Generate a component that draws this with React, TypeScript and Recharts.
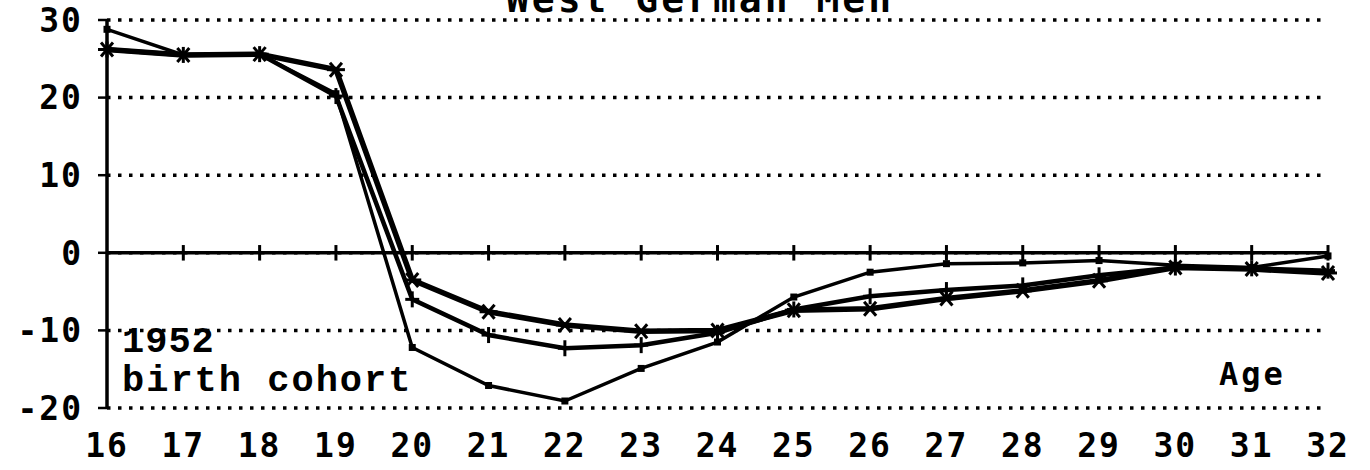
import React from "react"
import {
  LineChart,
  Line,
  XAxis,
  YAxis,
  CartesianGrid,
  ReferenceLine
} from "recharts"

const ages = [16, 17, 18, 19, 20, 21, 22, 23, 24, 25, 26, 27, 28, 29, 30, 31, 32]
// squares
const seriesA = [28.8, 25.5, 25.6, 20.5, -12.2, -17.1, -19.1, -14.9, -11.5, -5.7, -2.5, -1.4, -1.3, -1.0, -1.6, -1.9, -0.4]
// stars
const seriesB = [26.2, 25.5, 25.6, 23.6, -3.5, -7.6, -9.3, -10.1, -10.0, -7.4, -7.2, -5.9, -4.9, -3.6, -1.9, -2.1, -2.6]
// plus signs
const seriesC = [26.2, 25.5, 25.6, 20.2, -6.0, -10.6, -12.3, -11.9, -10.3, -7.3, -5.6, -4.8, -4.2, -2.9, -1.9, -2.0, -2.3]
const yTicks = [-20, -10, 0, 10, 20, 30]

const data = ages.map((age, i) => ({ age, a: seriesA[i], b: seriesB[i], c: seriesC[i] }))

const font = "'DejaVu Sans Mono', monospace"

const SquareDot = (p: any) => (
  <rect key={p.index} x={p.cx - 3.5} y={p.cy - 3.5} width={7} height={7} fill="#000" />
)

const StarDot = (p: any) => (
  <g key={p.index} stroke="#000" strokeWidth={3}>
    <line x1={p.cx - 9} y1={p.cy} x2={p.cx + 9} y2={p.cy} />
    <line x1={p.cx - 6} y1={p.cy - 7} x2={p.cx + 6} y2={p.cy + 7} />
    <line x1={p.cx - 6} y1={p.cy + 7} x2={p.cx + 6} y2={p.cy - 7} />
  </g>
)

const PlusDot = (p: any) => (
  <g key={p.index} stroke="#000" strokeWidth={3}>
    <line x1={p.cx} y1={p.cy - 8} x2={p.cx} y2={p.cy + 8} />
    <line x1={p.cx - 7} y1={p.cy} x2={p.cx + 7} y2={p.cy} />
  </g>
)

export default function App() {
  return (
    <div style={{ position: "absolute", left: 0, top: 0, width: 1370, height: 470, background: "#fff" }}>
      <LineChart
        width={1370}
        height={470}
        data={data}
        margin={{ top: 20, right: 42, bottom: 12, left: 0 }}
      >
        <CartesianGrid
          vertical={false}
          stroke="#000"
          strokeWidth={3.5}
          strokeDasharray="3.5 7.5"
        />
        <XAxis
          dataKey="age"
          type="number"
          domain={[16, 32]}
          ticks={ages}
          interval={0}
          axisLine={false}
          tickLine={false}
          height={50}
          tickMargin={20}
          tick={{ fill: "#000", fontSize: 33, fontWeight: 700, fontFamily: font, letterSpacing: 2 }}
        />
        <YAxis
          type="number"
          domain={[-20, 30]}
          ticks={yTicks}
          interval={0}
          width={107}
          axisLine={{ stroke: "#000", strokeWidth: 3.5 }}
          tickLine={{ stroke: "#000", strokeWidth: 2.5 }}
          tickSize={9}
          tickMargin={15}
          tick={{ fill: "#000", fontSize: 33, fontWeight: 700, fontFamily: font, letterSpacing: 2 }}
        />
        <ReferenceLine y={0} stroke="#000" strokeWidth={3.5} />
        {ages.slice(1).map((age) => (
          <ReferenceLine
            key={age}
            segment={[{ x: age, y: -1 }, { x: age, y: 1 }]}
            stroke="#000"
            strokeWidth={3}
          />
        ))}
        <Line
          dataKey="a"
          type="linear"
          stroke="#000"
          strokeWidth={3.5}
          dot={SquareDot}
          isAnimationActive={false}
        />
        <Line
          dataKey="c"
          type="linear"
          stroke="#000"
          strokeWidth={4.5}
          dot={PlusDot}
          isAnimationActive={false}
        />
        <Line
          dataKey="b"
          type="linear"
          stroke="#000"
          strokeWidth={5.5}
          dot={StarDot}
          isAnimationActive={false}
        />
      </LineChart>
      <svg
        width={1370}
        height={470}
        style={{ position: "absolute", left: 0, top: 0, pointerEvents: "none" }}
      >
        <text x={700} y={12} textAnchor="middle" fontFamily={font} fontWeight={700} fontSize={38} letterSpacing={3}>
          West German Men
        </text>
        <text x={122} y={352} fontFamily="'Liberation Mono', monospace" fontWeight={700} fontSize={37} letterSpacing={1}>
          1952
        </text>
        <text x={122} y={391} fontFamily="'Liberation Mono', monospace" fontWeight={700} fontSize={37} letterSpacing={2}>
          birth cohort
        </text>
        <text x={1219} y={385} fontFamily={font} fontWeight={700} fontSize={32} letterSpacing={3}>
          Age
        </text>
      </svg>
    </div>
  )
}
